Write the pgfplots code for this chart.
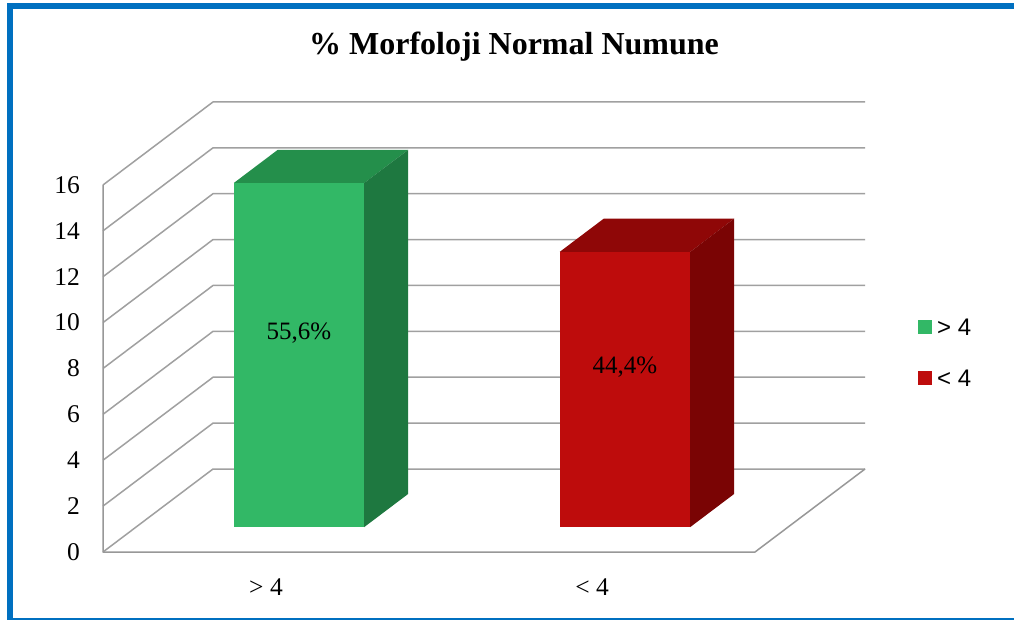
\documentclass[border=0pt]{standalone}
\usepackage{pgfplots}
\pgfplotsset{compat=1.18}
\usepackage{fontspec}
\setmainfont{Liberation Serif}
\newfontfamily\legfont{Liberation Sans}
\definecolor{gridgray}{HTML}{A0A0A0}
\definecolor{axgray}{HTML}{989898}
\definecolor{gfront}{HTML}{32B866}
\definecolor{gtop}{HTML}{248F4B}
\definecolor{gside}{HTML}{1E7840}
\definecolor{rfront}{HTML}{BE0C0C}
\definecolor{rtop}{HTML}{8F0707}
\definecolor{rside}{HTML}{7A0404}
\definecolor{frameblue}{HTML}{0070C0}
\begin{document}
\begin{tikzpicture}
\useasboundingbox (0,0) rectangle (1014pt,619pt);
\begin{scope}
\clip (0,0) rectangle (1014pt,619pt);
\fill[white] (0,0) rectangle (1014pt,619pt);
\draw[frameblue, line width=6pt] (10pt,-1.5pt) rectangle (1020pt,613pt);
\end{scope}
\node[font=\bfseries\fontsize{32}{38}\selectfont, anchor=base] at (514pt,564pt) {\% Morfoloji Normal Numune};

% 3D part
\begin{axis}[
  at={(103pt,67pt)}, anchor=origin,
  x={(326pt,0pt)}, y={(110pt,83pt)}, z={(0pt,22.94pt)},
  xmin=0, xmax=2, ymin=0, ymax=1, zmin=0, zmax=16,
  hide axis, clip=false,
]
\pgfplotsinvokeforeach{0,2,...,16}{
  \addplot3[gridgray, line width=1.5pt, mark=none, line join=round] coordinates {(0,0,#1) (0,1,#1) (2,1,#1)};
}
\addplot3[axgray, line width=1.5pt, mark=none, line join=round] coordinates {(0,0,16) (0,0,0) (2,0,0) (2,1,0)};
% bar > 4 : value 15
\addplot3[fill=gtop, draw=none, mark=none] coordinates {(0.3,0.3,15) (0.7,0.3,15) (0.7,0.7,15) (0.3,0.7,15)} --cycle;
\addplot3[fill=gside, draw=none, mark=none] coordinates {(0.7,0.3,0) (0.7,0.7,0) (0.7,0.7,15) (0.7,0.3,15)} --cycle;
\addplot3[fill=gfront, draw=none, mark=none] coordinates {(0.3,0.3,0) (0.7,0.3,0) (0.7,0.3,15) (0.3,0.3,15)} --cycle;
% bar < 4 : value 12
\addplot3[fill=rtop, draw=none, mark=none] coordinates {(1.3,0.3,12) (1.7,0.3,12) (1.7,0.7,12) (1.3,0.7,12)} --cycle;
\addplot3[fill=rside, draw=none, mark=none] coordinates {(1.7,0.3,0) (1.7,0.7,0) (1.7,0.7,12) (1.7,0.3,12)} --cycle;
\addplot3[fill=rfront, draw=none, mark=none] coordinates {(1.3,0.3,0) (1.7,0.3,0) (1.7,0.3,12) (1.3,0.3,12)} --cycle;
\node[font=\fontsize{25}{29}\selectfont, yshift=22pt] at (axis cs:0.5,0.3,7.5) {55,6\%};
\node[font=\fontsize{25}{29}\selectfont, yshift=22pt] at (axis cs:1.5,0.3,6) {44,4\%};
\end{axis}

% 2D overlay for tick labels and legend
\begin{axis}[
  at={(103pt,67pt)}, anchor=origin,
  x=326pt, y=22.94pt,
  xmin=0, xmax=2, ymin=0, ymax=16,
  axis x line*=bottom, axis y line*=left, axis line style={draw=none},
  major tick length=0pt,
  ytick={0,2,...,16}, xtick={0.5,1.5}, xticklabels={> 4, < 4},
  tick label style={font=\fontsize{25.5}{29}\selectfont, inner sep=0pt},
  yticklabel style={anchor=east, xshift=-23pt},
  xticklabel style={anchor=north, yshift=-27pt},
  /pgf/number format/assume math mode=true,
  legend style={at={(axis description cs:1.25,0.5436)}, anchor=west, draw=none, fill=none, inner sep=0pt,
    font=\legfont\fontsize{24}{28}\selectfont, row sep=34pt, cells={anchor=west},
    nodes={inner sep=0pt, text height=17pt, text depth=0pt},
    /tikz/every odd column/.append style={column sep=5pt}},
  legend image code/.code={\fill[#1] (0pt,-7pt) rectangle (14pt,7pt);},
]
\addlegendimage{fill=gfront, draw=none}
\addlegendentry{> 4}
\addlegendimage{fill=rfront, draw=none}
\addlegendentry{< 4}
\end{axis}
\end{tikzpicture}
\end{document}
